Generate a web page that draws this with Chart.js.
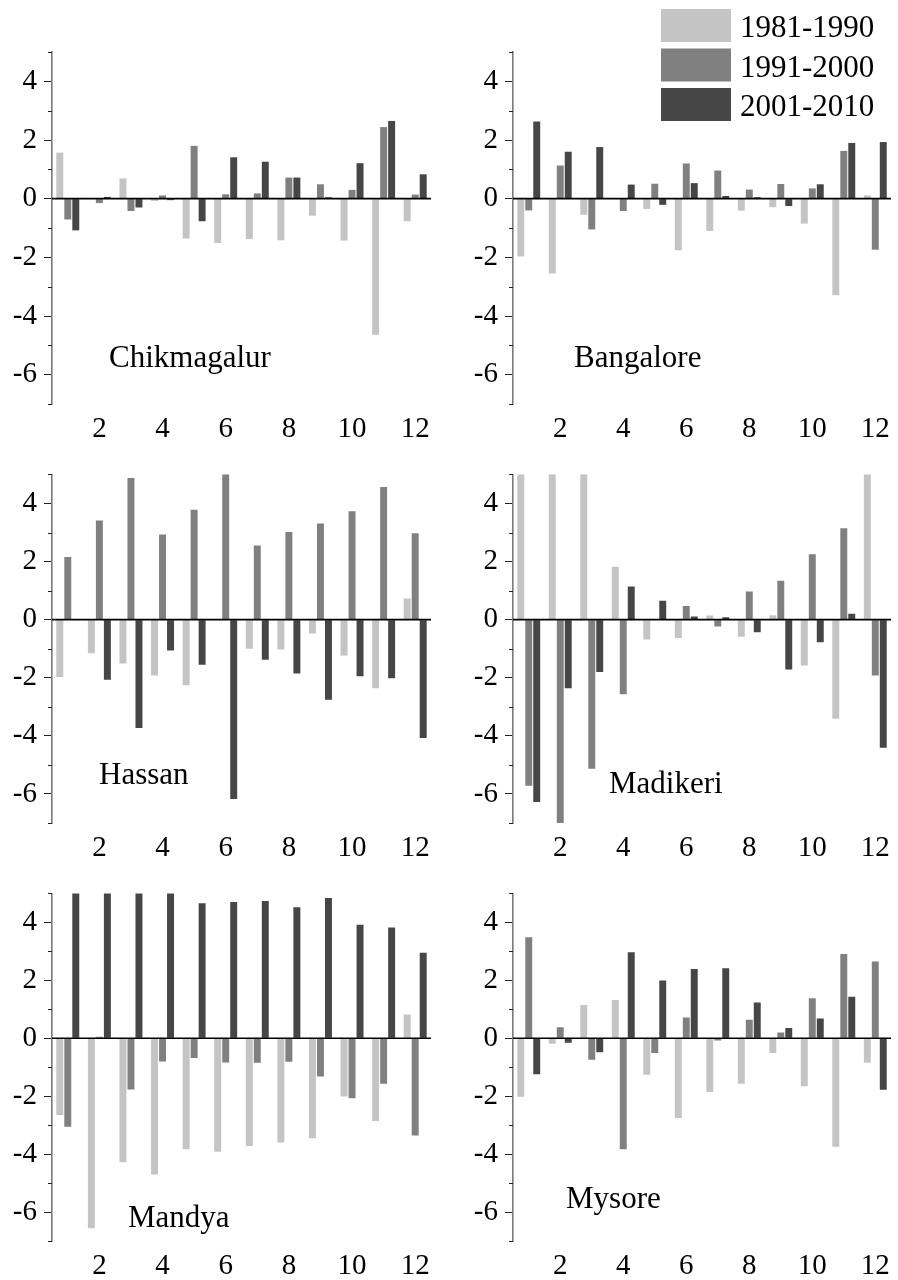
<!DOCTYPE html>
<html>
<head>
<meta charset="utf-8">
<script src="https://cdn.jsdelivr.net/npm/chart.js@4.4.1/dist/chart.umd.min.js"></script>
<style>
  html, body { margin: 0; padding: 0; background: #fff; }
  body { width: 898px; height: 1280px; position: relative; overflow: hidden; }
  canvas { position: absolute; }
</style>
</head>
<body>
<canvas id="c0"></canvas>
<canvas id="c1"></canvas>
<canvas id="c2"></canvas>
<canvas id="c3"></canvas>
<canvas id="c4"></canvas>
<canvas id="c5"></canvas>
<script>
// Monthly anomalies per station for three decades
const months = ['1', '2', '3', '4', '5', '6', '7', '8', '9', '10', '11', '12'];
const periods = ['1981-1990', '1991-2000', '2001-2010'];
const yTicks = [-6, -4, -2, 0, 2, 4];

const chikmagalur8190 = [1.57, 0.0, 0.69, -0.08, -1.36, -1.51, -1.38, -1.42, -0.58, -1.43, -4.64, -0.77];
const chikmagalur9100 = [-0.71, -0.15, -0.42, 0.11, 1.80, 0.15, 0.18, 0.72, 0.49, 0.30, 2.44, 0.14];
const chikmagalur0110 = [-1.08, 0.06, -0.30, -0.05, -0.77, 1.41, 1.26, 0.72, 0.05, 1.21, 2.65, 0.83];

const bangalore8190 = [-1.97, -2.55, -0.55, 0.0, -0.35, -1.76, -1.10, -0.41, -0.29, -0.85, -3.29, 0.11];
const bangalore9100 = [-0.40, 1.13, -1.05, -0.42, 0.51, 1.20, 0.96, 0.31, 0.50, 0.35, 1.63, -1.74];
const bangalore0110 = [2.63, 1.60, 1.76, 0.48, -0.21, 0.53, 0.09, 0.05, -0.25, 0.49, 1.90, 1.93];

const hassan8190 = [-1.97, -1.16, -1.51, -1.92, -2.26, 0.0, -1.00, -1.03, -0.48, -1.23, -2.36, 0.73];
const hassan9100 = [2.16, 3.41, 4.88, 2.93, 3.78, 5.3, 2.55, 3.02, 3.31, 3.73, 4.57, 2.97];
const hassan0110 = [0.0, -2.07, -3.73, -1.06, -1.55, -6.17, -1.38, -1.85, -2.76, -1.95, -2.02, -4.07];

const madikeri8190 = [5.8, 6.2, 5.9, 1.82, -0.68, -0.63, 0.14, -0.59, 0.15, -1.58, -3.41, 5.5];
const madikeri9100 = [-5.72, -7.4, -5.13, -2.57, 0.0, 0.47, -0.24, 0.97, 1.34, 2.25, 3.15, -1.92];
const madikeri0110 = [-6.28, -2.36, -1.80, 1.14, 0.65, 0.11, 0.08, -0.43, -1.72, -0.78, 0.20, -4.41];

const mandya8190 = [-2.65, -6.56, -4.28, -4.70, -3.83, -3.92, -3.72, -3.60, -3.45, -2.01, -2.86, 0.82];
const mandya9100 = [-3.06, 0.05, -1.77, -0.80, -0.68, -0.84, -0.85, -0.81, -1.32, -2.07, -1.57, -3.36];
const mandya0110 = [5.6, 5.8, 5.7, 5.5, 4.66, 4.70, 4.74, 4.52, 4.84, 3.92, 3.82, 2.95];

const mysore8190 = [-2.02, -0.19, 1.15, 1.32, -1.26, -2.75, -1.86, -1.57, -0.51, -1.66, -3.75, -0.85];
const mysore9100 = [3.49, 0.38, -0.74, -3.83, -0.51, 0.72, -0.08, 0.64, 0.20, 1.38, 2.91, 2.65];
const mysore0110 = [-1.24, -0.16, -0.48, 2.97, 1.99, 2.39, 2.42, 1.23, 0.35, 0.68, 1.43, -1.78];

const stations = ['Chikmagalur', 'Bangalore', 'Hassan', 'Madikeri', 'Mandya', 'Mysore'];
const stationSeries = [
  [chikmagalur8190, chikmagalur9100, chikmagalur0110],
  [bangalore8190, bangalore9100, bangalore0110],
  [hassan8190, hassan9100, hassan0110],
  [madikeri8190, madikeri9100, madikeri0110],
  [mandya8190, mandya9100, mandya0110],
  [mysore8190, mysore9100, mysore0110]
];

const colors = ['#c4c4c4', '#808080', '#464646'];
const SERIF = '"Liberation Serif", "Times New Roman", serif';

// Panel geometry: canvas placement and plot insets
const colLeft = [0, 449];
const colWidth = 449;
const yAxisWidth = [52, 64];
const padRight = [18, 5];
const rowTop = [0, 450, 869];
const padTop = [52, 21, 20];
const plotHeight = 352;
const xAxisHeight = 40;
// station name offsets from the plot's top-left corner
const nameOffset = [[57, 315], [61, 315], [47, 310], [96, 319], [76, 334], [53, 315]];

// zero line, minor ticks and station name
const panelDecor = {
  id: 'panelDecor',
  afterDatasetsDraw(chart, args, opts) {
    const { ctx, chartArea } = chart;
    const y = chart.scales.y;
    ctx.save();
    ctx.strokeStyle = '#000';
    ctx.lineWidth = 1.6;
    const y0 = y.getPixelForValue(0);
    ctx.beginPath();
    ctx.moveTo(chartArea.left, y0);
    ctx.lineTo(chartArea.right, y0);
    ctx.stroke();

    ctx.lineWidth = 1;
    ctx.strokeStyle = '#222';
    for (let v = y.min; v <= y.max; v++) {
      if (yTicks.includes(v)) continue;
      const py = Math.round(y.getPixelForValue(v)) + 0.5;
      ctx.beginPath();
      ctx.moveTo(chartArea.left - 4, py);
      ctx.lineTo(chartArea.left, py);
      ctx.stroke();
    }

    ctx.fillStyle = '#000';
    ctx.font = '31px ' + SERIF;
    ctx.textBaseline = 'alphabetic';
    ctx.textAlign = 'left';
    ctx.fillText(opts.name, chartArea.left + opts.dx, chartArea.top + opts.dy);
    ctx.restore();
  }
};

// decade key in the upper-right panel
const decadeKey = {
  id: 'decadeKey',
  afterDraw(chart, args, opts) {
    if (!opts.show) return;
    const { ctx } = chart;
    ctx.save();
    ctx.font = '31px ' + SERIF;
    ctx.textBaseline = 'alphabetic';
    ctx.textAlign = 'left';
    chart.data.datasets.forEach((ds, i) => {
      const top = opts.top + i * opts.step;
      ctx.fillStyle = ds.backgroundColor;
      ctx.fillRect(opts.left, top, opts.boxW, opts.boxH);
      ctx.fillStyle = '#000';
      ctx.fillText(ds.label, opts.left + opts.boxW + 9, top + 28);
    });
    ctx.restore();
  }
};

stations.forEach((name, i) => {
  const col = i % 2;
  const row = Math.floor(i / 2);
  const canvas = document.getElementById('c' + i);
  const h = padTop[row] + plotHeight + xAxisHeight;
  canvas.width = colWidth;
  canvas.height = h;
  canvas.style.left = colLeft[col] + 'px';
  canvas.style.top = rowTop[row] + 'px';
  canvas.style.width = colWidth + 'px';
  canvas.style.height = h + 'px';

  new Chart(canvas, {
    type: 'bar',
    data: {
      labels: months,
      datasets: periods.map((p, k) => ({
        label: p,
        data: stationSeries[i][k],
        backgroundColor: colors[k],
        borderWidth: 0,
        categoryPercentage: 0.76,
        barPercentage: 0.87
      }))
    },
    options: {
      responsive: false,
      animation: false,
      devicePixelRatio: 1,
      layout: { padding: { top: padTop[row], right: padRight[col], left: 0, bottom: 0 } },
      plugins: {
        legend: { display: false },
        tooltip: { enabled: false },
        panelDecor: { name: name, dx: nameOffset[i][0], dy: nameOffset[i][1] },
        decadeKey: { show: i === 1, left: 212, top: 9, step: 39.5, boxW: 70, boxH: 33 }
      },
      scales: {
        x: {
          type: 'category',
          offset: true,
          grid: { display: false, drawTicks: false },
          border: { display: false },
          ticks: {
            autoSkip: false,
            maxRotation: 0,
            padding: 8,
            color: '#000',
            font: { family: SERIF, size: 29 },
            callback: (val, idx) => (idx % 2 === 1 ? months[idx] : '')
          },
          afterFit: (s) => { s.height = xAxisHeight; }
        },
        y: {
          min: -7,
          max: 5,
          grid: {
            drawOnChartArea: false,
            drawTicks: true,
            tickLength: 8,
            tickWidth: 1,
            tickColor: (c) => (yTicks.includes(c.tick.value) ? '#222' : 'rgba(0,0,0,0)')
          },
          border: { display: true, color: '#7a7a7a', width: 1.6 },
          ticks: {
            stepSize: 1,
            autoSkip: false,
            padding: 7,
            color: '#000',
            font: { family: SERIF, size: 29 },
            callback: (v) => (yTicks.includes(v) ? String(v) : '')
          },
          afterFit: (s) => { s.width = yAxisWidth[col]; }
        }
      }
    },
    plugins: [panelDecor, decadeKey]
  });
});
</script>
</body>
</html>
